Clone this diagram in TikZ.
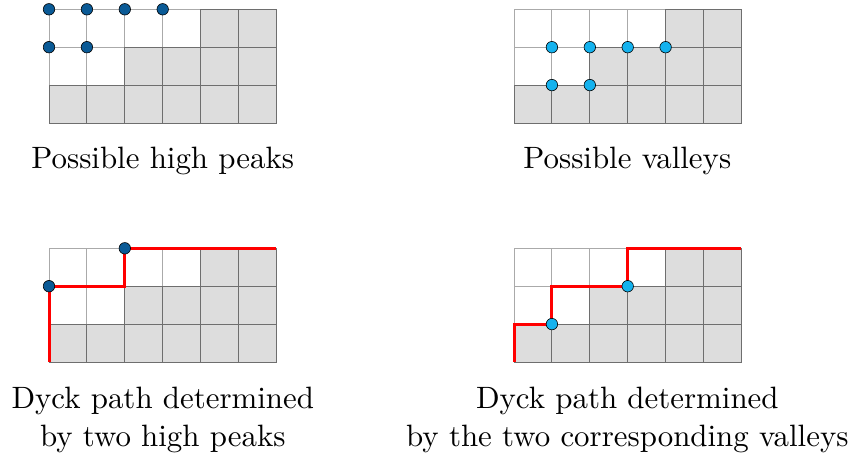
\documentclass[tikz,border=0pt]{standalone}
\usepackage{fontspec}
\definecolor{cellgray}{HTML}{DDDDDD}
\definecolor{gridlight}{HTML}{AAAAAA}
\definecolor{griddark}{HTML}{6E6E6E}
\definecolor{peakblue}{HTML}{0A5A96}
\definecolor{valleyblue}{HTML}{14B2EE}
\definecolor{pathred}{HTML}{FF0000}
\tikzset{
  lightgrid/.style={draw=gridlight, line width=0.9bp},
  darkcell/.style={draw=griddark, fill=cellgray, line width=0.9bp},
  dyckpath/.style={draw=pathred, line width=3bp},
  peakdot/.style={circle, draw=black, line width=0.6bp, fill=peakblue, inner sep=0pt, minimum size=11.5bp},
  valleydot/.style={circle, draw=black, line width=0.6bp, fill=valleyblue, inner sep=0pt, minimum size=11.5bp},
  lbl/.style={anchor=base, inner sep=0pt, scale=3.1, font=\fontsize{10}{12}\selectfont},
  gridscope/.style={x=37.9bp, y=-37.9bp}
}
\newcommand{\dyckgrid}{%
  \foreach \c in {0,...,6} \draw[lightgrid] (\c,0) -- (\c,3);
  \foreach \r in {0,...,3} \draw[lightgrid] (0,\r) -- (6,\r);
  \foreach \c/\r in {4/0,5/0,2/1,3/1,4/1,5/1,0/2,1/2,2/2,3/2,4/2,5/2}
    \draw[darkcell] (\c,\r) rectangle ++(1,1);
}
\begin{document}
\begin{tikzpicture}[x=1bp, y=-1bp]
\useasboundingbox (0,0) rectangle (854,453);

% top-left: possible high peaks
\begin{scope}[shift={(49bp,-9.3bp)}, gridscope]
  \dyckgrid
  \node[peakdot] (p1) at (0,0) {};
  \node[peakdot] (p2) at (1,0) {};
  \node[peakdot] (p3) at (2,0) {};
  \node[peakdot] (p4) at (3,0) {};
  \node[peakdot] (p5) at (0,1) {};
  \node[peakdot] (p6) at (1,1) {};
\end{scope}

% top-right: possible valleys
\begin{scope}[shift={(514bp,-9.3bp)}, gridscope]
  \dyckgrid
  \node[valleydot] (v1) at (1,1) {};
  \node[valleydot] (v2) at (2,1) {};
  \node[valleydot] (v3) at (3,1) {};
  \node[valleydot] (v4) at (4,1) {};
  \node[valleydot] (v5) at (1,2) {};
  \node[valleydot] (v6) at (2,2) {};
\end{scope}

% bottom-left: path by high peaks
\begin{scope}[shift={(49bp,-248.3bp)}, gridscope]
  \dyckgrid
  \coordinate (bls) at (0,3);
  \coordinate (ble) at (6,0);
  \draw[dyckpath] (bls) |- (2,1) |- (ble);
  \node[peakdot] (hp1) at (0,1) {};
  \node[peakdot] (hp2) at (2,0) {};
\end{scope}

% bottom-right: path by valleys
\begin{scope}[shift={(514bp,-248.3bp)}, gridscope]
  \dyckgrid
  \coordinate (brs) at (0,3);
  \coordinate (bre) at (6,0);
  \draw[dyckpath] (brs) |- (1,2) |- (3,1) |- (bre);
  \node[valleydot] (cv1) at (1,2) {};
  \node[valleydot] (cv2) at (3,1) {};
\end{scope}

% labels
\node[lbl] (t1) at (162.8,168.3) {Possible high peaks};
\node[lbl] (t2) at (627.3,168.3) {Possible valleys};
\node[lbl] (t3a) at (162.8,408.3) {Dyck path determined};
\node[lbl] (t3b) at (162.8,446.7) {by two high peaks};
\node[lbl] (t4a) at (627.3,408.3) {Dyck path determined};
\node[lbl] (t4b) at (627.3,446.7) {by the two corresponding valleys};
\end{tikzpicture}
\end{document}
